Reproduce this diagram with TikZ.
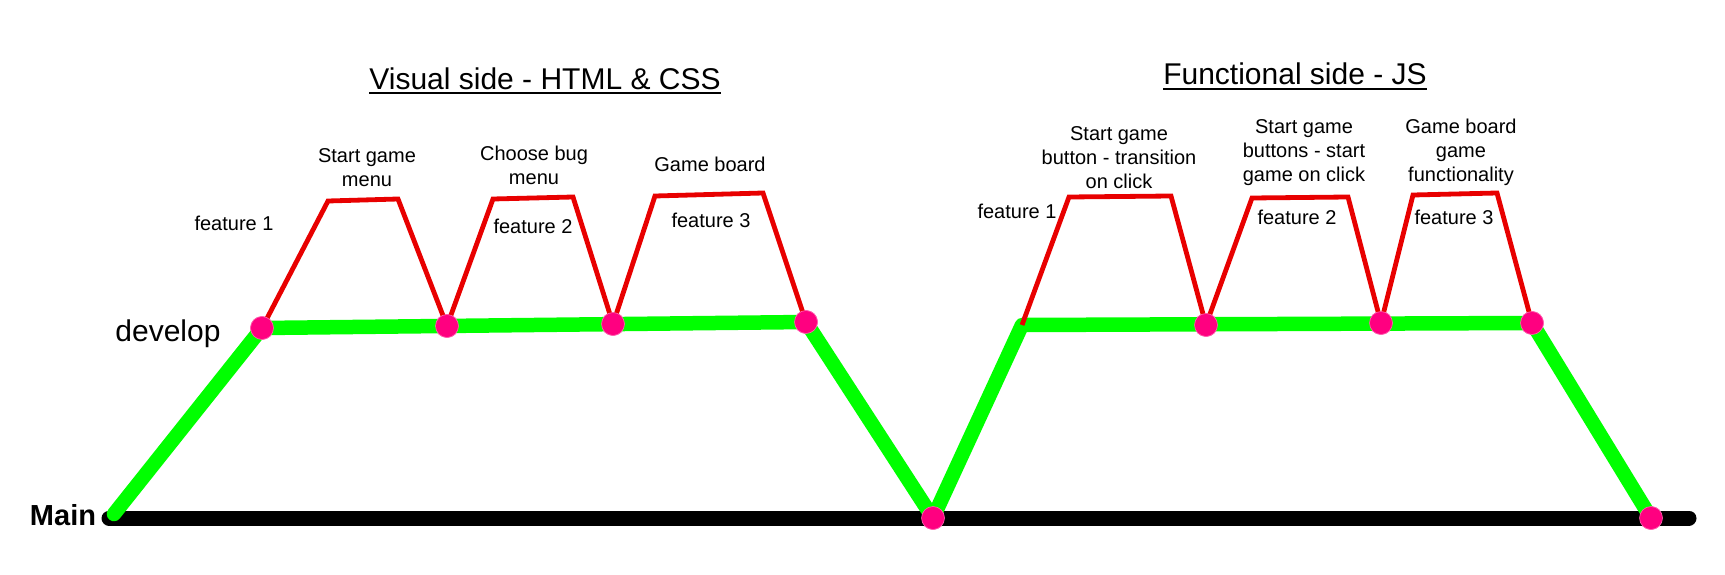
\documentclass[tikz,border=0pt]{standalone}
\usepackage{fontspec}
\setmainfont{Liberation Sans}
\definecolor{mainblack}{RGB}{0,0,0}
\definecolor{devgreen}{RGB}{0,255,0}
\definecolor{featred}{RGB}{232,0,0}
\definecolor{dotpink}{RGB}{255,0,128}
\tikzset{
  mainline/.style={draw=mainblack,line width=15pt,line cap=round},
  devline/.style={draw=devgreen,line width=14.5pt,line cap=round,line join=round},
  featline/.style={draw=featred,line width=4.8pt,line join=miter},
  dot/.style={circle,fill=dotpink,draw=dotpink!60!white,line width=0.6pt,minimum size=23pt,inner sep=0pt},
  lbl/.style={inner sep=0pt,align=center,font=\fontsize{20}{24}\selectfont},
  title/.style={inner sep=0pt,font=\fontsize{30}{36}\selectfont},
  big/.style={inner sep=0pt,font=\fontsize{30}{36}\selectfont},
}
\begin{document}
\begin{tikzpicture}[x=1pt,y=-1pt]
\useasboundingbox (0,0) rectangle (1725,575);
% main line end points
\coordinate (mL) at (109,518);
\coordinate (mR) at (1689,518);
\coordinate (gL) at (114,514);
\coordinate (gJ) at (1022,325);
% commit dots
\node[dot] (c1) at (262,328) {};
\node[dot] (c2) at (447,326) {};
\node[dot] (c3) at (613,324) {};
\node[dot] (c4) at (806,322) {};
\node[dot] (c5) at (933,518) {};
\node[dot] (c6) at (1206,325) {};
\node[dot] (c7) at (1381,323) {};
\node[dot] (c8) at (1532,323) {};
\node[dot] (c9) at (1651,518) {};
% feature tops
\coordinate (v1a) at (328,201); \coordinate (v1b) at (398,199);
\coordinate (v2a) at (493,199); \coordinate (v2b) at (573,197);
\coordinate (v3a) at (655,196); \coordinate (v3b) at (763,193);
\coordinate (j1a) at (1069,197); \coordinate (j1b) at (1171,196);
\coordinate (j2a) at (1252,198); \coordinate (j2b) at (1348,197);
\coordinate (j3a) at (1413,195); \coordinate (j3b) at (1497,193);
% lines
\draw[mainline] (mL) -- (mR);
\draw[devline] (gL) -- (c1.center) -- (c4.center) -- (c5.center) -- (gJ) -- (c8.center) -- (c9.center);
\draw[featline] (c1.center) -- (v1a) -- (v1b) -- (c2.center);
\draw[featline] (c2.center) -- (v2a) -- (v2b) -- (c3.center);
\draw[featline] (c3.center) -- (v3a) -- (v3b) -- (c4.center);
\draw[featline] (gJ) -- (j1a) -- (j1b) -- (c6.center);
\draw[featline] (c6.center) -- (j2a) -- (j2b) -- (c7.center);
\draw[featline] (c7.center) -- (j3a) -- (j3b) -- (c8.center);
% redraw dots on top
\foreach \n in {c1,c2,c3,c4,c5,c6,c7,c8,c9} \node[dot] at (\n) {};
% titles
\node[title,anchor=base] (t1) at (545,90) {Visual side - HTML \& CSS};
\node[title,anchor=base] (t2) at (1295,85) {Functional side - JS};
\draw[line width=2pt] ([yshift=-3pt]t1.south west) -- ([yshift=-3pt]t1.south east);
\draw[line width=2pt] ([yshift=-4pt]t2.south west) -- ([yshift=-4pt]t2.south east);
% labels
\node[big] (dev) at (168,334) {develop};
\node[big,font=\fontsize{29}{34}\selectfont\bfseries] (main) at (63,515) {Main};
\node[lbl] (l1) at (367,168) {Start game\\menu};
\node[lbl] (l2) at (534,165) {Choose bug\\menu};
\node[lbl] (l3) at (710,164) {Game board};
\node[lbl] (f1) at (234,223) {feature 1};
\node[lbl] (f2) at (533,226) {feature 2};
\node[lbl] (f3) at (711,220) {feature 3};
\node[lbl] (k1) at (1119,158) {Start game\\button - transition\\on click};
\node[lbl] (k2) at (1304,153) {Start game\\buttons - start\\game on click};
\node[lbl] (k3) at (1461,152) {Game board\\game\\functionality};
\node[lbl] (g1) at (1017,211) {feature 1};
\node[lbl] (g2) at (1297,217) {feature 2};
\node[lbl] (g3) at (1454,217) {feature 3};
\end{tikzpicture}
\end{document}
